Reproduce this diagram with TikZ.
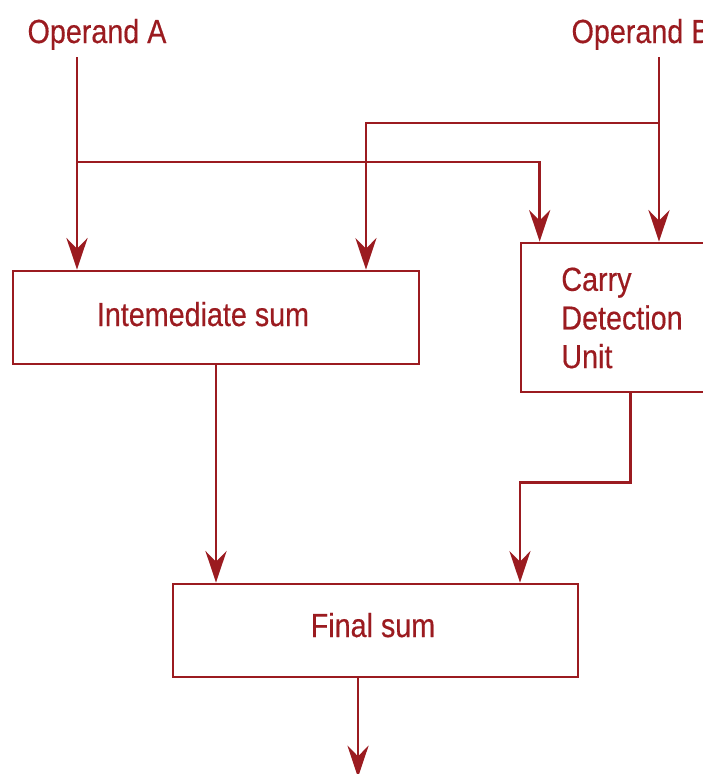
\documentclass[tikz,border=0pt]{standalone}
\usepackage{fontspec}
\setmainfont[FakeStretch=0.86, FakeBold=0.4]{Liberation Sans}
\usetikzlibrary{arrows.meta}
\definecolor{dunkelrot}{RGB}{155,27,32}

\tikzset{
  arr/.style = {-{Stealth[length=18pt, width=12pt, inset=6pt]}},
  box/.style = {draw, inner sep=0pt},
  lbl/.style = {font=\fontsize{19}{22}\selectfont, inner sep=0pt, anchor=base}
}

\begin{document}
\begin{tikzpicture}[x=0.02cm, y=-0.02cm, line width=1.55pt, color=dunkelrot]
\clip (0,0) rectangle (703,774);

% operands
\node[lbl] (opA) at (97,43) {Operand A};
\node[lbl] (opB) at (641,43) {Operand B};
\coordinate (a0) at (77,57);
\coordinate (b0) at (659,57);
\coordinate (a1) at (77,162);
\coordinate (b1) at (659,123);

% boxes
\node[box, minimum width=8.12cm, minimum height=1.86cm] (inter) at (216,317.5) {};
\node[lbl] (interlbl) at (203,326) {Intemediate sum};
\node[box, minimum width=4.38cm, minimum height=2.98cm] (cdu) at (630.5,317.5) {};
\node[lbl, anchor=west, align=left] (cdulbl) at (560,318) {Carry\\Detection\\Unit};
\node[box, minimum width=8.1cm, minimum height=1.86cm] (fin) at (375.5,630.5) {};
\node[lbl] (finlbl) at (373,637) {Final sum};

% connectors
\draw[arr] (a0) -- (a0 |- inter.north);
\draw[arr] (b0) -- (b0 |- cdu.north);
\draw[arr] (b1) -| ([xshift=3cm]inter.north);
\draw[arr] (a1) -| ([xshift=0.4cm]cdu.north west);
\draw[arr] (inter.south) -- (inter.south |- fin.north);
\draw[arr] (cdu.south) -- ++(0,89) -| ([xshift=2.89cm]fin.north);
\draw[arr] ([xshift=-0.35cm]fin.south) -- ++(0,99);
\end{tikzpicture}
\end{document}
